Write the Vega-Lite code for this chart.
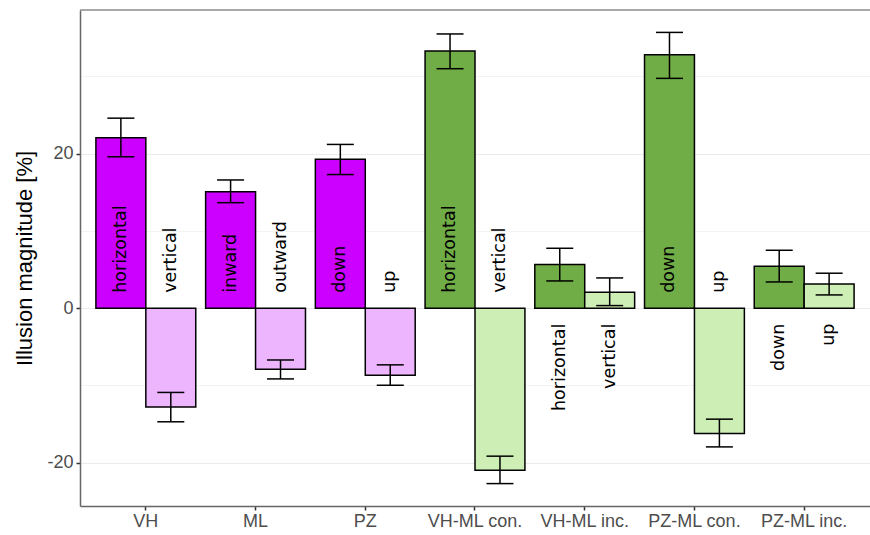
{
  "$schema": "https://vega.github.io/schema/vega-lite/v6.json",
  "width": 790,
  "height": 496,
  "autosize": {"type": "none"},
  "padding": {"left": 80, "top": 10, "right": 0, "bottom": 29},
  "background": "white",
  "config": {
    "view": {"stroke": null},
    "axis": {"labelFont": "Liberation Sans", "titleFont": "Liberation Sans"}
  },
  "datasets": {
    "bars": [
      {"cat": "VH", "kind": "single", "grp": "1", "series": "single 1", "label": "horizontal", "value": 22.07, "lo": 19.6, "hi": 24.6},
      {"cat": "VH", "kind": "single", "grp": "2", "series": "single 2", "label": "vertical", "value": -12.8, "lo": -14.7, "hi": -10.9},
      {"cat": "ML", "kind": "single", "grp": "1", "series": "single 1", "label": "inward", "value": 15.08, "lo": 13.66, "hi": 16.6},
      {"cat": "ML", "kind": "single", "grp": "2", "series": "single 2", "label": "outward", "value": -7.9, "lo": -9.15, "hi": -6.7},
      {"cat": "PZ", "kind": "single", "grp": "1", "series": "single 1", "label": "down", "value": 19.27, "lo": 17.3, "hi": 21.2},
      {"cat": "PZ", "kind": "single", "grp": "2", "series": "single 2", "label": "up", "value": -8.67, "lo": -9.97, "hi": -7.33},
      {"cat": "VH-ML con.", "kind": "con", "grp": "1", "series": "combined 1", "label": "horizontal", "value": 33.3, "lo": 31.0, "hi": 35.5},
      {"cat": "VH-ML con.", "kind": "con", "grp": "2", "series": "combined 2", "label": "vertical", "value": -20.96, "lo": -22.7, "hi": -19.15},
      {"cat": "VH-ML inc.", "kind": "inc", "grp": "1", "series": "combined 1", "label": "horizontal", "value": 5.65, "lo": 3.53, "hi": 7.76},
      {"cat": "VH-ML inc.", "kind": "inc", "grp": "2", "series": "combined 2", "label": "vertical", "value": 2.07, "lo": 0.34, "hi": 3.92},
      {"cat": "PZ-ML con.", "kind": "con", "grp": "1", "series": "combined 1", "label": "down", "value": 32.8, "lo": 29.75, "hi": 35.7},
      {"cat": "PZ-ML con.", "kind": "con", "grp": "2", "series": "combined 2", "label": "up", "value": -16.2, "lo": -17.95, "hi": -14.36},
      {"cat": "PZ-ML inc.", "kind": "inc", "grp": "1", "series": "combined 1", "label": "down", "value": 5.43, "lo": 3.4, "hi": 7.5},
      {"cat": "PZ-ML inc.", "kind": "inc", "grp": "2", "series": "combined 2", "label": "up", "value": 3.14, "lo": 1.72, "hi": 4.53}
    ],
    "border": [{"edge": "top"}]
  },
  "data": {"name": "bars"},
  "layer": [
    {
      "mark": {"type": "bar", "stroke": "black", "strokeWidth": 1.5},
      "encoding": {
        "x": {
          "field": "cat",
          "type": "nominal",
          "sort": ["VH", "ML", "PZ", "VH-ML con.", "VH-ML inc.", "PZ-ML con.", "PZ-ML inc."],
          "scale": {"paddingInner": 0.09, "paddingOuter": 0.145},
          "title": null,
          "axis": {
            "labelAngle": 0,
            "labelFontSize": 18,
            "labelColor": "#4D4D4D",
            "labelPadding": 2,
            "tickSize": 4,
            "tickColor": "#333333",
            "tickWidth": 1.5,
            "domainColor": "#666666",
            "domainWidth": 1.5,
            "grid": false
          }
        },
        "xOffset": {"field": "grp", "type": "nominal", "scale": {"paddingInner": 0, "paddingOuter": 0}},
        "y": {
          "field": "value",
          "type": "quantitative",
          "scale": {"domain": [-25.6, 38.6], "nice": false, "zero": true},
          "title": "Illusion magnitude [%]",
          "axis": {
            "values": [-20, -10, 0, 10, 20, 30],
            "labelExpr": "datum.value % 20 == 0 ? '' + datum.value : ''",
            "grid": true,
            "gridColor": {"condition": {"test": "datum.value % 20 == 0", "value": "#EBEBEB"}, "value": "#F3F3F3"},
            "gridWidth": 1.2,
            "tickOpacity": {"condition": {"test": "datum.value % 20 == 0", "value": 1}, "value": 0},
            "tickSize": 4,
            "tickColor": "#333333",
            "tickWidth": 1.5,
            "labelFontSize": 18,
            "labelColor": "#4D4D4D",
            "labelPadding": 3,
            "titleFontSize": 22,
            "titleFontWeight": "normal",
            "titleColor": "black",
            "titlePadding": 10,
            "domainColor": "#666666",
            "domainWidth": 1.5
          }
        },
        "fill": {
          "field": "series",
          "type": "nominal",
          "scale": {"domain": ["single 1", "single 2", "combined 1", "combined 2"], "range": ["#CC00FF", "#EEB5FF", "#70AD47", "#CDEEB4"]},
          "legend": null
        }
      }
    },
    {
      "data": {"name": "border"},
      "mark": {"type": "rule", "strokeWidth": 1.5, "color": "#8c8c8c"},
      "encoding": {"y": {"datum": 38.6, "type": "quantitative"}}
    },
    {
      "mark": {"type": "rule", "strokeWidth": 1.5, "color": "black"},
      "encoding": {
        "x": {"field": "cat", "type": "nominal", "sort": ["VH", "ML", "PZ", "VH-ML con.", "VH-ML inc.", "PZ-ML con.", "PZ-ML inc."]},
        "xOffset": {"field": "grp", "type": "nominal"},
        "y": {"field": "lo", "type": "quantitative"},
        "y2": {"field": "hi"}
      }
    },
    {
      "mark": {"type": "tick", "size": 27, "thickness": 1.5, "color": "black", "opacity": 1},
      "encoding": {
        "x": {"field": "cat", "type": "nominal", "sort": ["VH", "ML", "PZ", "VH-ML con.", "VH-ML inc.", "PZ-ML con.", "PZ-ML inc."]},
        "xOffset": {"field": "grp", "type": "nominal"},
        "y": {"field": "lo", "type": "quantitative"}
      }
    },
    {
      "mark": {"type": "tick", "size": 27, "thickness": 1.5, "color": "black", "opacity": 1},
      "encoding": {
        "x": {"field": "cat", "type": "nominal", "sort": ["VH", "ML", "PZ", "VH-ML con.", "VH-ML inc.", "PZ-ML con.", "PZ-ML inc."]},
        "xOffset": {"field": "grp", "type": "nominal"},
        "y": {"field": "hi", "type": "quantitative"}
      }
    },
    {
      "transform": [{"filter": "datum.kind != 'inc'"}],
      "mark": {"type": "text", "angle": 270, "align": "left", "baseline": "middle", "font": "DejaVu Sans", "fontSize": 17.5, "color": "black"},
      "encoding": {
        "x": {"field": "cat", "type": "nominal", "sort": ["VH", "ML", "PZ", "VH-ML con.", "VH-ML inc.", "PZ-ML con.", "PZ-ML inc."]},
        "xOffset": {"field": "grp", "type": "nominal"},
        "y": {"datum": 2, "type": "quantitative"},
        "text": {"field": "label"}
      }
    },
    {
      "transform": [{"filter": "datum.kind == 'inc'"}],
      "mark": {"type": "text", "angle": 270, "align": "right", "baseline": "middle", "font": "DejaVu Sans", "fontSize": 17.5, "color": "black"},
      "encoding": {
        "x": {"field": "cat", "type": "nominal", "sort": ["VH", "ML", "PZ", "VH-ML con.", "VH-ML inc.", "PZ-ML con.", "PZ-ML inc."]},
        "xOffset": {"field": "grp", "type": "nominal"},
        "y": {"datum": -2, "type": "quantitative"},
        "text": {"field": "label"}
      }
    }
  ]
}
